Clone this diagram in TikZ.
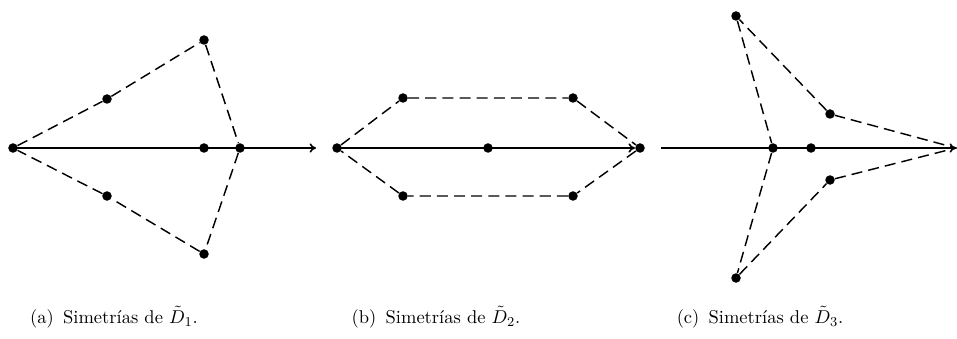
\documentclass[tikz,border=0pt]{standalone}
\usetikzlibrary{arrows.meta,positioning}
\tikzset{
  pt/.style={circle,fill=black,inner sep=0pt,minimum size=5.6pt},
  axis/.style={-{To[length=3.8pt,width=5.5pt]},line width=0.95pt},
  edge/.style={dash pattern=on 6.5pt off 3.6pt,line width=0.85pt},
  caption/.style={anchor=center,inner sep=0pt,font=\fontsize{10.9}{13}\selectfont}
}

\begin{document}
\begin{tikzpicture}[x=0.0207cm,y=-0.0207cm]
    \useasboundingbox (0,0) rectangle (957,339);
    % (a)
    \node[pt] (aleft) at (13,148) {};
    \node[pt] (aup) at (107,99) {};
    \node[pt] (atop) at (204,40) {};
    \node[pt] (amid) at (204,148) {};
    \node[pt] (ahub) at (240,148) {};
    \node[pt] (alow) at (107,196) {};
    \node[pt] (abot) at (204,254) {};
    \coordinate (aend) at (316,148);
    \draw[axis] (aleft.center) -- (aend);
    \draw[edge] (aleft) -- (aup) -- (atop) -- (ahub) -- (abot) -- (alow) -- (aleft);
    % (b)
    \node[pt] (bleft) at (337,148) {};
    \node[pt] (bul) at (403,98) {};
    \node[pt] (bur) at (573,98) {};
    \node[pt] (bright) at (640,148) {};
    \node[pt] (blr) at (573,196) {};
    \node[pt] (bll) at (403,196) {};
    \node[pt] (bmid) at (488,148) {};
    \draw[axis] (bleft.center) -- (bright.west);
    \draw[edge] (bleft) -- (bul) -- (bur) -- (bright) -- (blr) -- (bll) -- (bleft);
    % (c)
    \node[pt] (ctop) at (736,16) {};
    \node[pt] (cbot) at (736,278) {};
    \node[pt] (chub) at (773,148) {};
    \node[pt] (cmid) at (811,148) {};
    \node[pt] (cup) at (830,114) {};
    \node[pt] (clow) at (830,180) {};
    \coordinate (cstart) at (661,148);
    \coordinate (ctip) at (956,148);
    \draw[axis] (cstart) -- (ctip);
    \draw[edge] (ctop) -- (chub) -- (cbot) -- (clow) -- (ctip) -- (cup) -- (ctop);
    % captions
    \node[caption] (capa) at (114,317) {(a)\enspace Simetrías de $\tilde{D}_1$.};
    \node[caption] (capb) at (436,317) {(b)\enspace Simetrías de $\tilde{D}_2$.};
    \node[caption] (capc) at (760,317) {(c)\enspace Simetrías de $\tilde{D}_3$.};
\end{tikzpicture}
\end{document}
